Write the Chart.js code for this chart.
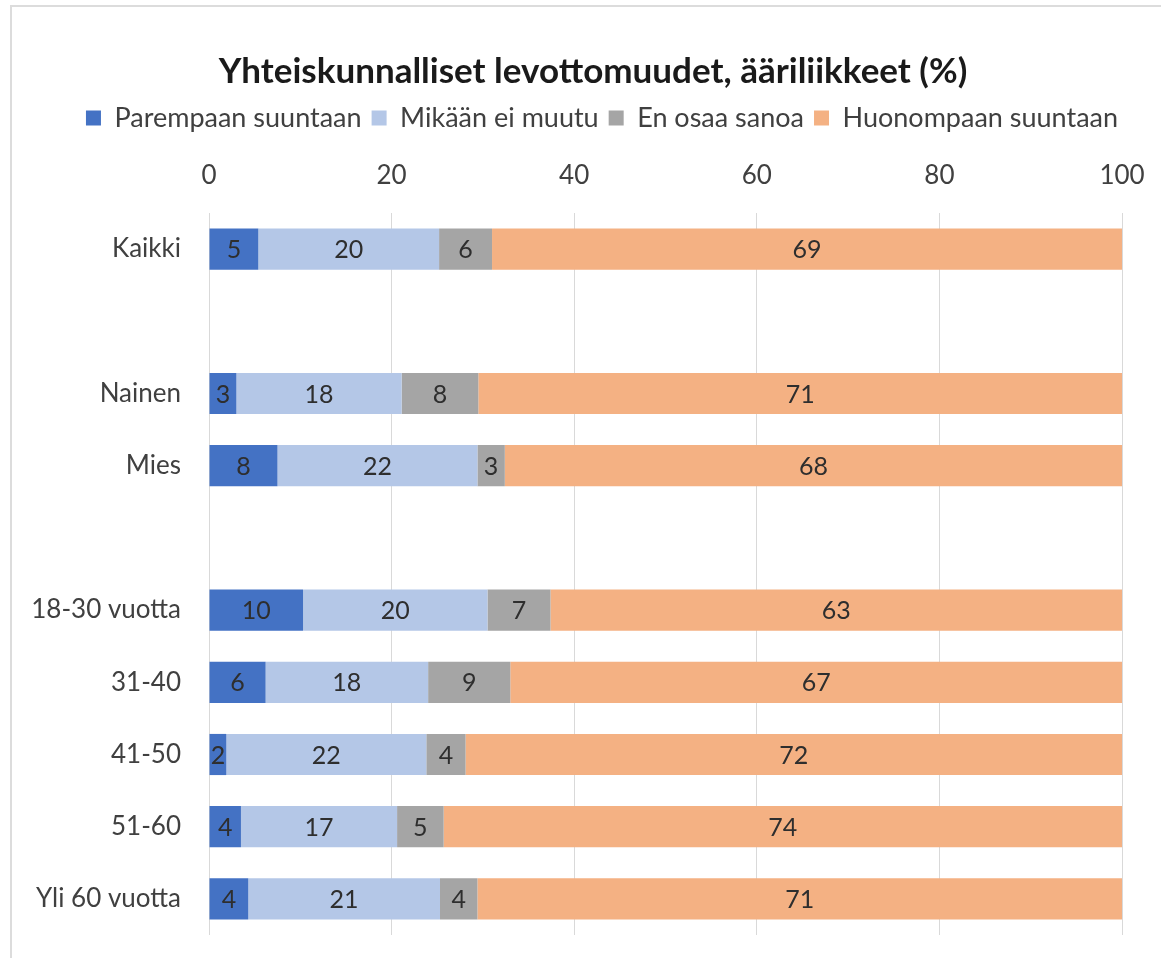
<!DOCTYPE html>
<html>
<head>
<meta charset="utf-8">
<script src="https://cdn.jsdelivr.net/npm/chart.js@4.4.1/dist/chart.umd.min.js"></script>
<style>
  html, body { margin: 0; padding: 0; background: #fff; overflow: hidden; }
  #wrap { position: absolute; left: 0; top: 0; width: 1161px; height: 958px; }
  #frame { position: absolute; left: 10px; top: 5px; width: 1170px; height: 980px; border: 2px solid #dcdcdc; }
</style>
</head>
<body>
<div id="frame"></div>
<div id="wrap"><canvas id="chart"></canvas></div>
<script>
// categories (empty strings are the spacer rows)
const categories = ['Kaikki', '', 'Nainen', 'Mies', '', '18-30 vuotta', '31-40', '41-50', '51-60', 'Yli 60 vuotta'];

// series (% of respondents)
const parempaan = [5.4, null, 3.0, 7.5, null, 10.3, 6.2, 1.9, 3.5, 4.3];
const eiMuutu = [19.8, null, 18.1, 21.9, null, 20.2, 17.8, 21.9, 17.1, 21.0];
const enOsaa = [5.8, null, 8.4, 3.0, null, 6.9, 9.0, 4.3, 5.1, 4.1];
const huonompaan = [69.0, null, 70.5, 67.6, null, 62.6, 67.0, 71.9, 74.3, 70.6];

const xTicks = [0, 20, 40, 60, 80, 100];

const FONT = 'Lato, "Open Sans", sans-serif';

// draws the rounded value in the middle of each bar segment
const segmentLabels = {
    id: 'segmentLabels',
    afterDatasetsDraw(chart) {
        const ctx = chart.ctx;
        ctx.save();
        ctx.font = '25px ' + FONT;
        ctx.fillStyle = '#2e2e2e';
        ctx.textAlign = 'center';
        ctx.textBaseline = 'middle';
        chart.data.datasets.forEach((ds, i) => {
            const meta = chart.getDatasetMeta(i);
            meta.data.forEach((bar, j) => {
                const v = ds.data[j];
                if (v == null) return;
                const p = bar.getProps(['x', 'y', 'base'], true);
                ctx.fillText(String(Math.round(v)), (p.x + p.base) / 2, p.y + 1);
            });
        });
        ctx.restore();
    }
};

// title and legend sit a bit right of the canvas centre in the original
const shiftHeader = {
    id: 'shiftHeader',
    afterLayout(chart) {
        chart.titleBlock.left += 32;
        chart.titleBlock.right += 32;
        chart.legend.left += 41;
        chart.legend.right += 41;
    }
};

// tick labels may hang outside the plot, so drop the extra padding chart.js reserves for them
const noLabelPadding = (scale) => {
    scale.paddingLeft = 0;
    scale.paddingRight = 0;
    scale.paddingTop = 0;
    scale.paddingBottom = 0;
};

new Chart(document.getElementById('chart').getContext('2d'), {
    type: 'bar',
    data: {
        labels: categories,
        datasets: [
            { label: 'Parempaan suuntaan', data: parempaan, backgroundColor: '#4472C4' },
            { label: 'Mikään ei muutu', data: eiMuutu, backgroundColor: '#B4C7E7' },
            { label: 'En osaa sanoa', data: enOsaa, backgroundColor: '#A5A5A5' },
            { label: 'Huonompaan suuntaan', data: huonompaan, backgroundColor: '#F4B183' }
        ]
    },
    options: {
        indexAxis: 'y',
        responsive: true,
        maintainAspectRatio: false,
        animation: false,
        barPercentage: 0.57,
        categoryPercentage: 1,
        layout: { padding: { left: 0, right: 39, top: 0, bottom: 23 } },
        plugins: {
            title: {
                display: true,
                text: 'Yhteiskunnalliset levottomuudet, ääriliikkeet (%)',
                color: '#1a1a1a',
                font: { family: FONT, size: 35, weight: 'bold' },
                padding: { top: 51, bottom: 1.5 }
            },
            legend: {
                position: 'top',
                labels: {
                    color: '#404040',
                    font: { family: FONT, size: 27 },
                    boxWidth: 15,
                    boxHeight: 15,
                    padding: 10
                }
            },
            tooltip: { enabled: false }
        },
        scales: {
            x: {
                position: 'top',
                stacked: true,
                min: 0,
                max: 100,
                afterBuildTicks: (scale) => { scale.ticks = xTicks.map(v => ({ value: v })); },
                afterFit: (scale) => { scale.height = 71.5; noLabelPadding(scale); },
                ticks: { color: '#404040', font: { family: FONT, size: 26 }, padding: 22 },
                grid: { color: '#d9d9d9', drawTicks: false },
                border: { display: false }
            },
            y: {
                stacked: true,
                afterFit: (scale) => { scale.width = 209; noLabelPadding(scale); },
                ticks: { color: '#404040', font: { family: FONT, size: 26 }, padding: 28 },
                grid: { display: false, drawTicks: false },
                border: { display: false }
            }
        }
    },
    plugins: [segmentLabels, shiftHeader]
});
</script>
</body>
</html>
